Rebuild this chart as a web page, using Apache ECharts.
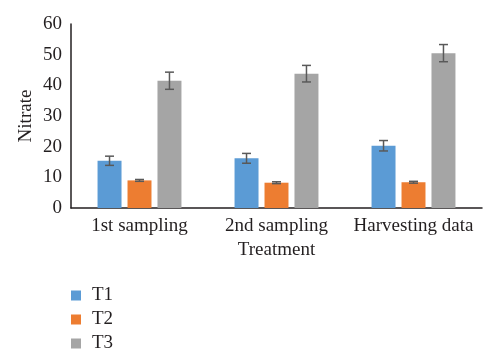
<!DOCTYPE html>
<html><head><meta charset="utf-8">
<script src="https://cdn.jsdelivr.net/npm/echarts@6/dist/echarts.min.js"></script>
<style>html,body{margin:0;padding:0;background:#fff}#c{width:500px;height:364px}</style>
</head><body><div id="c"></div>
<script>
var categories = ['1st sampling', '2nd sampling', 'Harvesting data'];
var seriesNames = ['T1', 'T2', 'T3'];
var T1 = [15.4, 16.2, 20.3];
var T2 = [9.0, 8.25, 8.4];
var T3 = [41.5, 43.8, 50.5];
var T1err = [1.5, 1.6, 1.7];
var T2err = [0.3, 0.3, 0.3];
var T3err = [2.8, 2.7, 2.8];
var yTicks = [0, 10, 20, 30, 40, 50, 60];

var colors = ['#5B9BD5', '#ED7D31', '#A5A5A5'];
var font = 'Liberation Serif';
var FS = 19;
var values = [T1, T2, T3];
var errs = [T1err, T2err, T3err];
var BW = 0.175, GAP = 0.25;

function errSeries(i) {
  var data = values[i].map(function (v, k) { return [k, v, errs[i][k]]; });
  return {
    type: 'custom', name: seriesNames[i] + ' err', silent: true, z: 5,
    data: data,
    renderItem: function (params, api) {
      var k = api.value(0), v = api.value(1), e = api.value(2);
      var band = api.size([1, 0])[0];
      var w = band * BW;
      var off = (i - 1) * w * (1 + GAP);
      var c = api.coord([k, v]);
      var x = c[0] + off;
      var hi = api.coord([k, v + e])[1];
      var lo = api.coord([k, v - e])[1];
      var cap = 4.5;
      var st = { stroke: '#595959', lineWidth: 1.5 };
      return { type: 'group', children: [
        { type: 'line', shape: { x1: x, y1: hi, x2: x, y2: lo }, style: st },
        { type: 'line', shape: { x1: x - cap, y1: hi, x2: x + cap, y2: hi }, style: st },
        { type: 'line', shape: { x1: x - cap, y1: lo, x2: x + cap, y2: lo }, style: st }
      ]};
    }
  };
}

var series = [];
for (var i = 0; i < 3; i++) {
  series.push({ type: 'bar', name: seriesNames[i], data: values[i], barWidth: (BW * 100) + '%', barGap: (GAP * 100) + '%',
    itemStyle: { color: colors[i] } });
}
for (var j = 0; j < 3; j++) series.push(errSeries(j));

var chart = echarts.init(document.getElementById('c'));
chart.setOption({
  animation: false,
  textStyle: { fontFamily: font },
  grid: { left: 71, right: 18, top: 24, bottom: 156, containLabel: false },
  legend: {
    data: seriesNames, orient: 'vertical', left: 66, top: 281,
    itemWidth: 10, itemHeight: 10, itemGap: 5, icon: 'rect',
    textStyle: { fontFamily: font, fontSize: FS, color: '#231f20', padding: [0, 0, 0, 6] }
  },
  xAxis: {
    type: 'category', data: categories,
    name: 'Treatment', nameLocation: 'middle', nameGap: 33,
    nameTextStyle: { fontFamily: font, fontSize: FS, color: '#231f20' },
    axisLine: { lineStyle: { color: '#231f20', width: 1.5 } },
    axisTick: { show: false },
    axisLabel: { fontFamily: font, fontSize: FS, color: '#231f20', margin: 9, interval: 0 }
  },
  yAxis: {
    type: 'value', min: yTicks[0], max: yTicks[yTicks.length - 1], interval: 10,
    name: 'Nitrate', nameLocation: 'middle', nameGap: 35, nameMoveOverlap: false,
    nameTextStyle: { fontFamily: font, fontSize: FS, color: '#231f20' },
    axisLine: { show: true, lineStyle: { color: '#231f20', width: 1.5 } },
    axisTick: { show: false },
    splitLine: { show: false },
    axisLabel: { fontFamily: font, fontSize: FS, color: '#231f20', margin: 9 }
  },
  series: series
});
</script></body></html>
